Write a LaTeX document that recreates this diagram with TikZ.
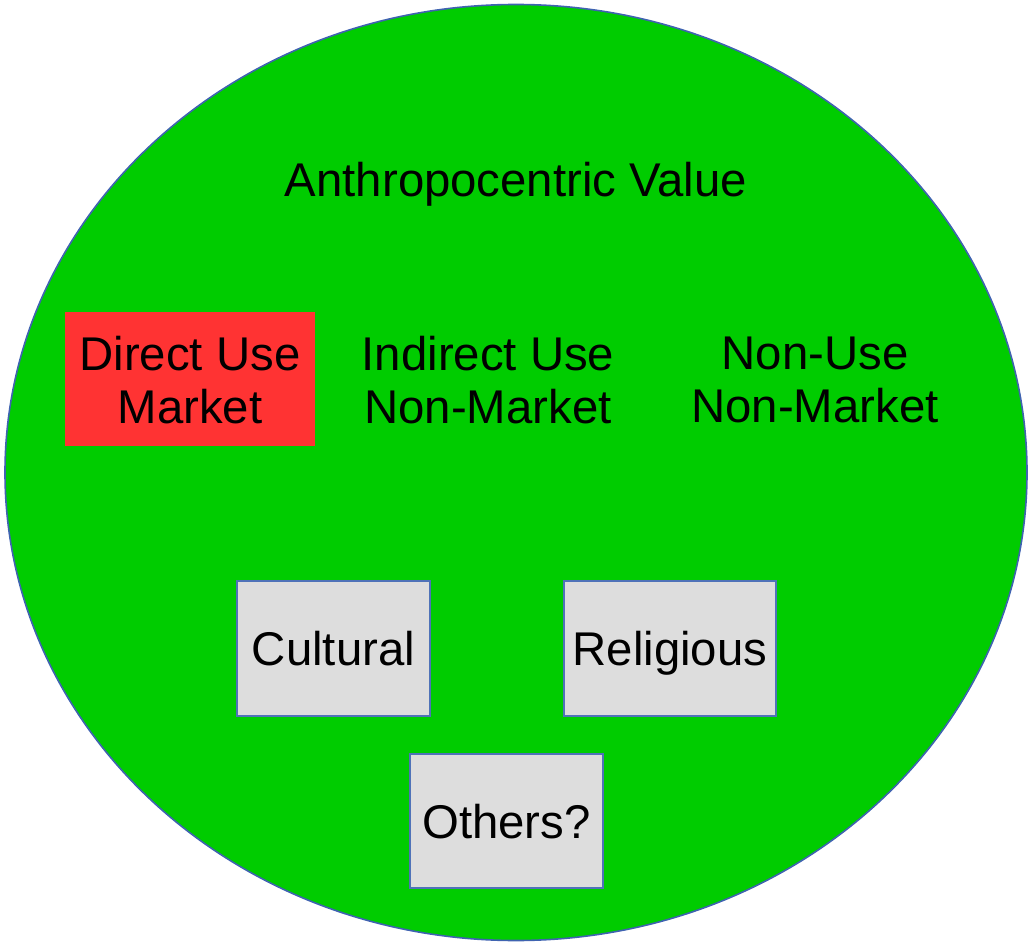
\documentclass[tikz,border=0pt]{standalone}
\usepackage{fontspec}
\setmainfont{Liberation Sans}
\begin{document}
\begin{tikzpicture}[x=0.75pt,y=-0.75pt,
  lbl/.style={font=\fontsize{35.5}{40}\selectfont, align=center, text=black, inner sep=0pt},
  graybox/.style={draw=boxblue, line width=1.2pt, fill=boxgray, inner sep=0pt},
]
\definecolor{ellgreen}{HTML}{00CC00}
\definecolor{ellblue}{HTML}{3F63B0}
\definecolor{boxblue}{HTML}{4F72B8}
\definecolor{boxgray}{HTML}{DDDDDD}
\definecolor{boxred}{HTML}{FF3333}
\useasboundingbox (0,0) rectangle (1030,944);
\draw[draw=ellblue, line width=1.2pt, fill=ellgreen] (516,472.5) ellipse [x radius=511, y radius=468];
\node[lbl, anchor=base] (title) at (516,197) {Anthropocentric Value};
\fill[boxred] (65,312) rectangle (315,446);
\node[lbl] (direct) at (190,380) {Direct Use\\Market};
\node[lbl] (indirect) at (488,380) {Indirect Use\\Non-Market};
\node[lbl] (nonuse) at (815,380) {Non-Use\\Non-Market};
\draw[graybox] (237,581) rectangle (430,716);
\node[lbl, anchor=base] (cultural) at (333.5,665) {Cultural};
\draw[graybox] (564,581) rectangle (776,716);
\node[lbl, anchor=base] (religious) at (670,665) {Religious};
\draw[graybox] (410,754) rectangle (603,888);
\node[lbl, anchor=base] (others) at (506.5,838) {Others?};
\end{tikzpicture}
\end{document}
